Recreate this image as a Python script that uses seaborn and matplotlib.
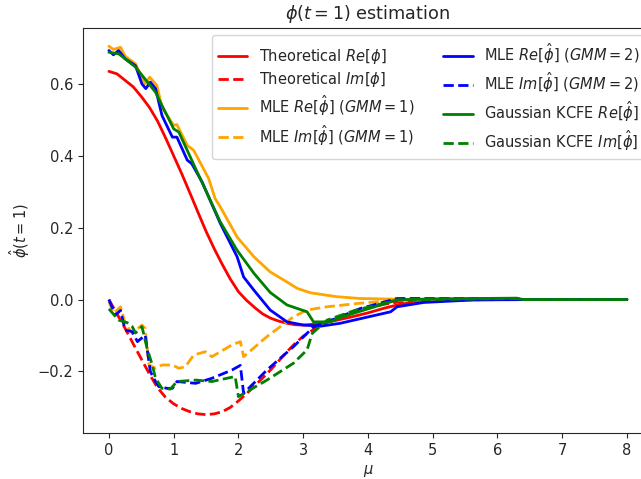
import matplotlib
matplotlib.use("Agg")
import matplotlib.pyplot as plt
import seaborn as sns

# 이론값 (theoretical characteristic function)
mu_theo = [0, 0.125, 0.25, 0.375, 0.5, 0.625, 0.75, 0.875, 1.0, 1.125, 1.25, 1.375, 1.5,
           1.625, 1.75, 1.875, 2.0, 2.125, 2.25, 2.375, 2.5, 2.625, 2.75, 2.875, 3.0,
           3.25, 3.5, 3.75, 4.0, 4.25, 4.5, 4.75, 5.0, 5.5, 6.0, 7.0, 8.0]
re_theo = [0.635, 0.628, 0.61, 0.592, 0.565, 0.535, 0.497, 0.45, 0.40, 0.35, 0.297, 0.243,
           0.19, 0.142, 0.098, 0.057, 0.022, -0.002, -0.022, -0.04, -0.052, -0.06, -0.066,
           -0.07, -0.071, -0.067, -0.058, -0.048, -0.037, -0.024, -0.013, -0.006, -0.003,
           -0.001, 0.0, 0.0, 0.0]
im_theo = [0.0, -0.04, -0.08, -0.123, -0.165, -0.207, -0.245, -0.272, -0.29, -0.303, -0.312,
           -0.318, -0.32, -0.318, -0.312, -0.3, -0.282, -0.262, -0.24, -0.218, -0.195, -0.17,
           -0.145, -0.122, -0.102, -0.073, -0.052, -0.036, -0.023, -0.013, -0.006, -0.003,
           -0.001, 0.0, 0.0, 0.0, 0.0]

# MLE (GMM=1)
mu_mle1_re = [0, 0.07, 0.18, 0.25, 0.41, 0.56, 0.63, 0.74, 0.82, 1.0, 1.05, 1.21, 1.31,
              1.54, 1.64, 1.72, 1.98, 2.24, 2.49, 2.75, 2.91, 3.11, 3.52, 3.88, 4.5, 5.0, 8.0]
re_mle1 = [0.705, 0.696, 0.702, 0.677, 0.656, 0.60, 0.619, 0.596, 0.535, 0.485, 0.487,
           0.429, 0.415, 0.337, 0.281, 0.258, 0.174, 0.119, 0.077, 0.049, 0.031, 0.019,
           0.008, 0.003, 0.001, 0.0, 0.0]
mu_mle1_im = [0, 0.07, 0.18, 0.25, 0.36, 0.51, 0.56, 0.62, 0.72, 0.82, 0.98, 1.08, 1.18,
              1.31, 1.49, 1.59, 1.90, 2.03, 2.08, 2.44, 2.85, 3.06, 3.37, 3.83, 4.4, 5.0, 8.0]
im_mle1 = [-0.006, -0.038, -0.02, -0.066, -0.094, -0.071, -0.08, -0.182, -0.191, -0.182,
           -0.182, -0.191, -0.187, -0.154, -0.145, -0.159, -0.126, -0.117, -0.159, -0.103,
           -0.048, -0.029, -0.02, -0.011, -0.002, 0.0, 0.0]

# MLE (GMM=2)
mu_mle2_re = [0, 0.07, 0.15, 0.25, 0.41, 0.51, 0.57, 0.64, 0.72, 0.82, 0.98, 1.05, 1.21,
              1.28, 1.44, 1.72, 1.98, 2.08, 2.24, 2.49, 2.75, 3.01, 3.27, 3.57, 4.35, 4.45,
              4.86, 5.63, 6.5, 8.0]
re_mle2 = [0.693, 0.681, 0.693, 0.67, 0.651, 0.60, 0.587, 0.605, 0.587, 0.512, 0.452,
           0.452, 0.388, 0.378, 0.327, 0.212, 0.119, 0.063, 0.026, -0.029, -0.062, -0.071,
           -0.074, -0.066, -0.034, -0.02, -0.008, -0.001, 0.0, 0.0]
mu_mle2_im = [0, 0.1, 0.18, 0.25, 0.36, 0.44, 0.56, 0.64, 0.69, 0.77, 0.9, 0.98, 1.05,
              1.34, 1.59, 1.90, 2.03, 2.08, 2.44, 2.85, 3.16, 3.57, 3.88, 4.45, 6.0, 6.3, 8.0]
im_mle2 = [0.0, -0.043, -0.03, -0.085, -0.089, -0.117, -0.099, -0.2, -0.219, -0.242,
           -0.247, -0.247, -0.228, -0.233, -0.219, -0.196, -0.183, -0.261, -0.196, -0.131,
           -0.076, -0.048, -0.025, 0.003, 0.003, 0.0, 0.0]

# Gaussian KCFE
mu_kcfe_re = [0, 0.15, 0.41, 0.72, 0.82, 1.0, 1.08, 1.34, 1.72, 1.98, 2.24, 2.49, 2.75,
              3.06, 3.16, 3.42, 3.57, 3.78, 4.45, 5.0, 6.3, 6.4, 8.0]
re_kcfe = [0.688, 0.684, 0.647, 0.577, 0.54, 0.475, 0.466, 0.364, 0.216, 0.137, 0.073,
           0.02, -0.015, -0.034, -0.062, -0.062, -0.05, -0.038, -0.001, 0.002, 0.004, 0.0, 0.0]
mu_kcfe_im = [0, 0.15, 0.28, 0.36, 0.41, 0.51, 0.59, 0.67, 0.72, 0.82, 0.95, 1.05, 1.34,
              1.59, 1.95, 2.0, 2.44, 2.85, 3.06, 3.14, 3.37, 3.8, 4.45, 6.3, 6.4, 8.0]
im_kcfe = [-0.026, -0.057, -0.064, -0.075, -0.093, -0.075, -0.136, -0.182, -0.219, -0.247,
           -0.249, -0.228, -0.224, -0.228, -0.214, -0.27, -0.224, -0.177, -0.14, -0.094,
           -0.057, -0.03, -0.001, 0.003, 0.0, 0.0]

series = [
    (mu_theo, re_theo, 'red', '-', r'Theoretical $Re[\phi]$'),
    (mu_theo, im_theo, 'red', '--', r'Theoretical $Im[\phi]$'),
    (mu_mle1_re, re_mle1, 'orange', '-', r'MLE $Re[\hat{\phi}]$ ($GMM=1$)'),
    (mu_mle1_im, im_mle1, 'orange', '--', r'MLE $Im[\hat{\phi}]$ ($GMM=1$)'),
    (mu_mle2_re, re_mle2, 'blue', '-', r'MLE $Re[\hat{\phi}]$ ($GMM=2$)'),
    (mu_mle2_im, im_mle2, 'blue', '--', r'MLE $Im[\hat{\phi}]$ ($GMM=2$)'),
    (mu_kcfe_re, re_kcfe, 'green', '-', r'Gaussian KCFE $Re[\hat{\phi}]$'),
    (mu_kcfe_im, im_kcfe, 'green', '--', r'Gaussian KCFE $Im[\hat{\phi}]$'),
]

sns.set_style("ticks")
plt.rcParams['font.family'] = ['DejaVu Sans']
plt.rcParams['font.size'] = 10.5

fig = plt.figure(figsize=(6.41, 4.79), dpi=100)
# 오른쪽이 잘린 원본처럼 축을 그림 밖까지 확장
ax = fig.add_axes([0.1295, 0.096, 0.889, 0.846])

for x, y, c, ls, lab in series:
    sns.lineplot(x=x, y=y, color=c, linestyle=ls, linewidth=2, label=lab,
                 sort=False, estimator=None, ax=ax)

ax.set_title(r'$\phi(t=1)$ estimation', fontsize=12.7)
ax.set_xlabel(r'$\mu$')
ax.set_ylabel(r'$\hat{\phi}(t=1)$')
ax.set_xticks(range(0, 9))
ax.set_yticks([-0.2, 0.0, 0.2, 0.4, 0.6])
ax.legend(ncol=2, loc='upper right', fontsize=10.5, labelspacing=0.3)

fig.savefig('out.png', dpi=100)
